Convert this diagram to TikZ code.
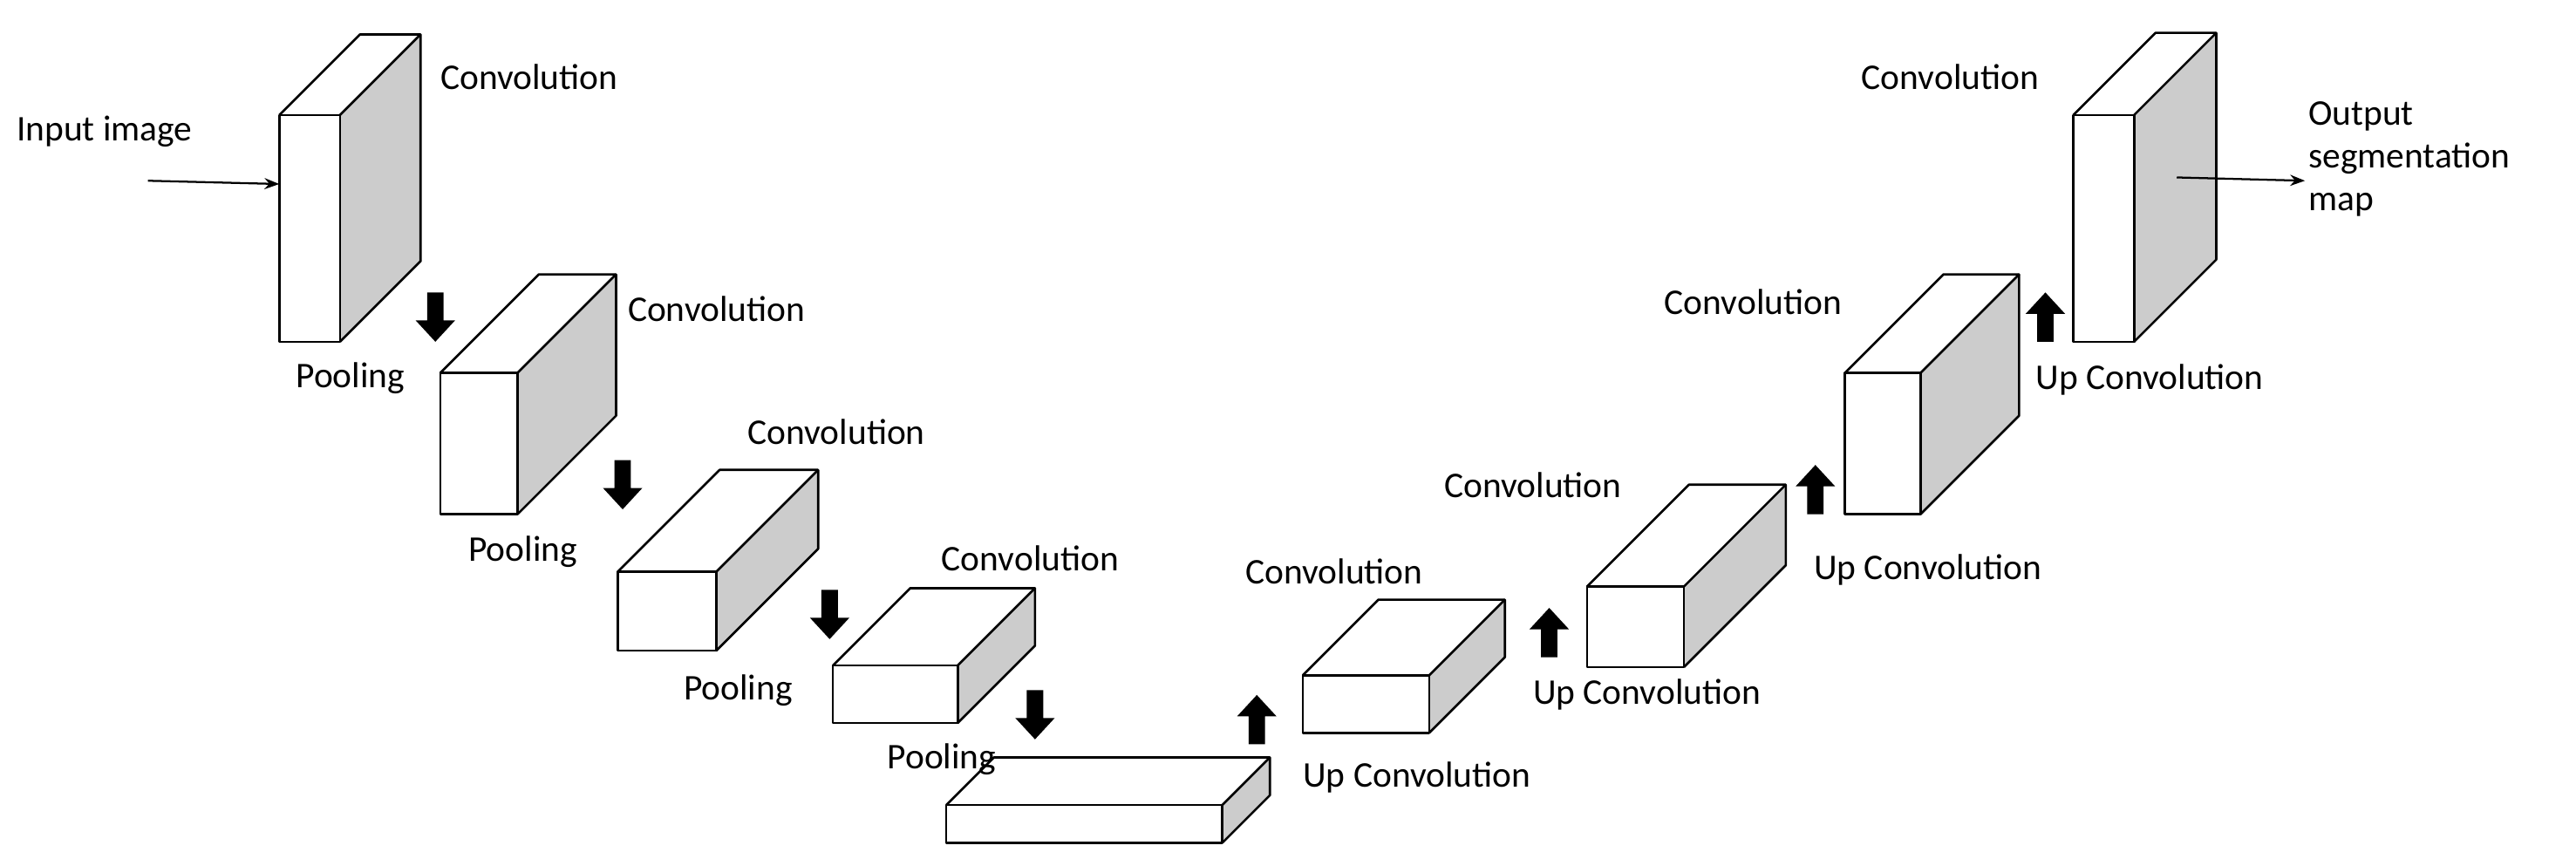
\documentclass[tikz,border=0pt]{standalone}
\usepackage{fontspec}
\setmainfont{Carlito}
\newcommand\mycube[5]{% x1 y1 x2 y2 depth
  \fill[gray!40] (#3,#2) -- ++(#5,-#5) -- ++(0,#4-#2) -- (#3,#4) -- cycle;
  \draw[line width=1.4pt, line join=round] (#1,#2) rectangle (#3,#4);
  \draw[line width=1.4pt, line join=round] (#1,#2) -- ++(#5,-#5) -- ($(#3,#2)+(#5,-#5)$) -- ++(0,#4-#2) -- (#3,#4);
  \draw[line width=1.4pt] (#3,#2) -- ++(#5,-#5);}
\newcommand\darr[2]{\fill (#1-5,#2) -- (#1+5,#2) -- (#1+5,#2+17) -- (#1+12,#2+17) -- (#1,#2+30) -- (#1-12,#2+17) -- (#1-5,#2+17) -- cycle;}
\newcommand\uarr[2]{\fill (#1-5,#2+30) -- (#1+5,#2+30) -- (#1+5,#2+13) -- (#1+12,#2+13) -- (#1,#2) -- (#1-12,#2+13) -- (#1-5,#2+13) -- cycle;}
\usetikzlibrary{calc,arrows.meta}
\begin{document}
\begin{tikzpicture}[x=1pt,y=-1pt,
  lab/.style={anchor=west,inner sep=0pt,font=\fontsize{22}{26}\selectfont}]
\useasboundingbox (0,0) rectangle (1568,527);
\mycube{170}{70}{207}{208}{49}
\mycube{268}{227}{315}{313}{60}
\mycube{376}{348}{436}{396}{62}
\mycube{507}{405}{583}{440}{47}
\mycube{576}{490}{744}{513}{29}
\mycube{793}{411}{870}{446}{46}
\mycube{966}{357}{1025}{406}{62}
\mycube{1123}{227}{1169}{313}{60}
\mycube{1262}{70}{1299}{208}{50}
\darr{265}{178}\darr{379}{280}\darr{505}{359}\darr{630}{420}
\uarr{765}{423}\uarr{943}{370}\uarr{1105}{283}\uarr{1245}{178}
\foreach \x/\y in {268/47,382/188,455/263,573/340,758/348,879/295,1013/184,1133/47}
  \node[lab] at (\x,\y) {Convolution};
\foreach \x/\y in {180/230,285/336,416/420,540/462}
  \node[lab] at (\x,\y) {Pooling};
\foreach \x/\y in {793/473,933/423,1104/347,1239/231}
  \node[lab] at (\x,\y) {Up Convolution};
\node[lab] (in) at (10,80) {Input image};
\node[lab,align=left] (out) at (1405,97) {Output\\segmentation\\map};
\coordinate (a1) at (90,110); \coordinate (a2) at (170,112);
\coordinate (b1) at (1325,108); \coordinate (b2) at (1403,110);
\draw[line width=1.2pt,-{Stealth[length=9pt]}] (a1) -- (a2);
\draw[line width=1.2pt,-{Stealth[length=9pt]}] (b1) -- (b2);
\end{tikzpicture}
\end{document}
